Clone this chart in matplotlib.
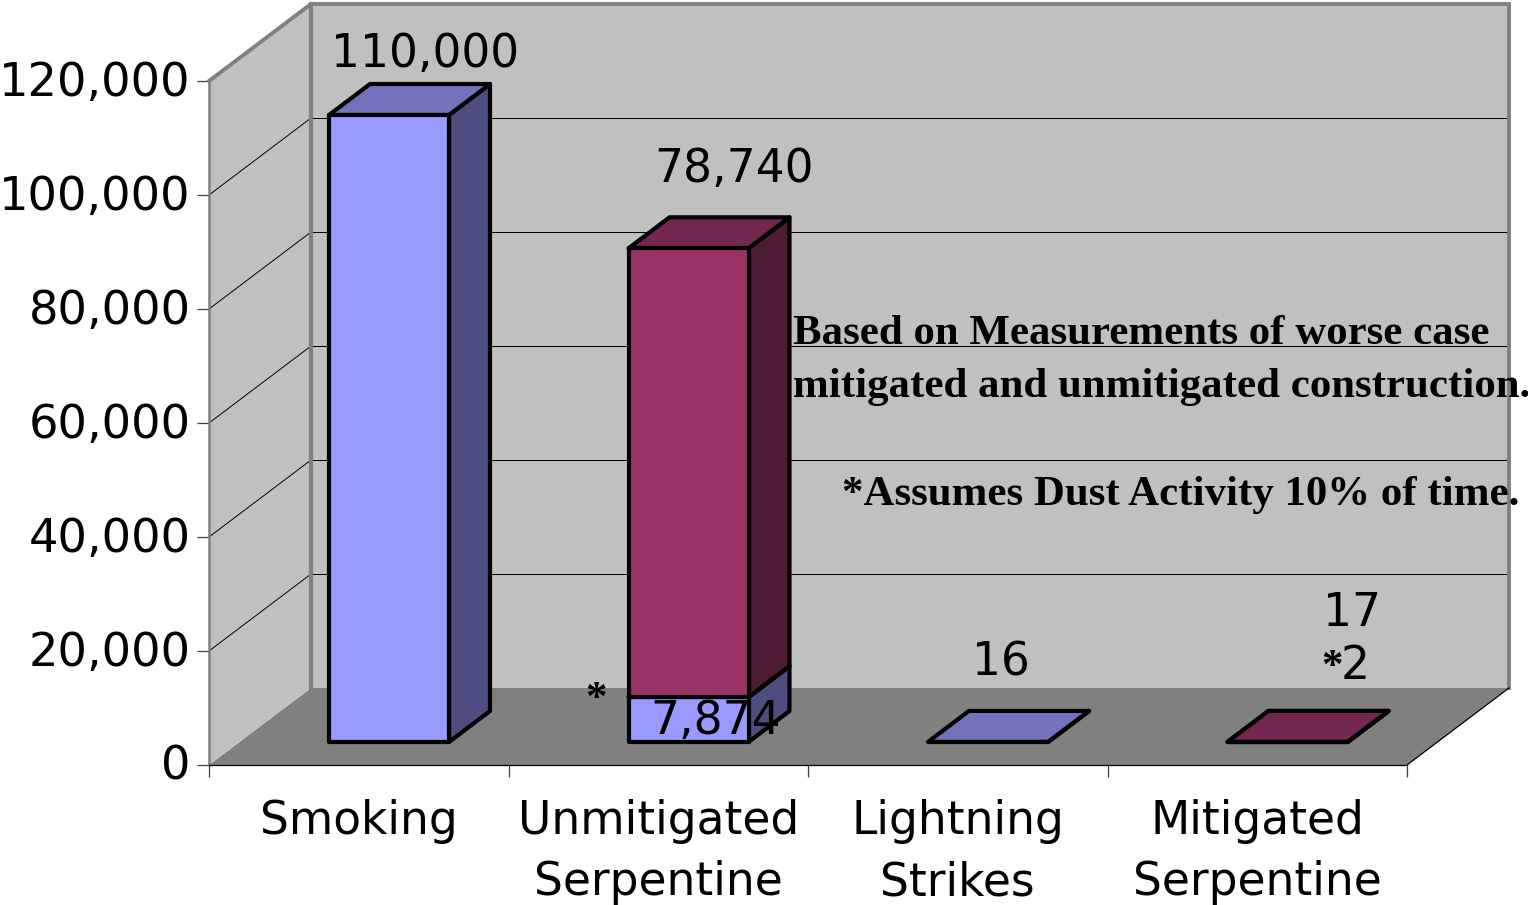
import matplotlib
matplotlib.use("Agg")
import matplotlib.pyplot as plt
from matplotlib.transforms import ScaledTranslation

# ---- data ----
categories = ["Smoking", "Unmitigated\nSerpentine", "Lightning\nStrikes", "Mitigated\nSerpentine"]
lower_values = [110000, 7874, 16, 2]
upper_values = [0, 78740, 0, 17]
y_ticks = [0, 20000, 40000, 60000, 80000, 100000, 120000]

W, H = 1528, 905
DPI = 100
X0, Y0 = 209, 765          # pixel position of the front-left origin
PX_CAT = 299.5             # pixels per category
PX_VAL = 684 / 120000      # pixels per value unit
N = len(categories)
YMAX = y_ticks[-1]


def ux(px):
    return px / PX_CAT


def uy(px):
    return px / PX_VAL


fig = plt.figure(figsize=(W / DPI, H / DPI), dpi=DPI, facecolor="white")
ax = fig.add_axes([0, 0, 1, 1])
ax.set_xlim((0 - X0) / PX_CAT, (W - X0) / PX_CAT)
ax.set_ylim((Y0 - H) / PX_VAL, Y0 / PX_VAL)
ax.patch.set_visible(False)

# 3-D box depth
DX, DY = ux(102), uy(77)
GREY = "#808080"
WALL = "#C0C0C0"

ax.fill([0, N, N + DX, DX], [0, 0, DY, DY], color=GREY, lw=0, zorder=1)
ax.fill([0, DX, DX, 0], [0, DY, YMAX + DY, YMAX], color=WALL, lw=0, zorder=1)
ax.fill([DX, N + DX, N + DX, DX], [DY, DY, YMAX + DY, YMAX + DY], color=WALL, lw=0, zorder=1)

# grid lines on the side and back walls
for v in y_ticks[1:-1]:
    ax.plot([0, DX], [v, v + DY], color="black", lw=0.7, zorder=2)
    ax.plot([DX, N + DX], [v + DY, v + DY], color="black", lw=0.72, zorder=2)

# wall borders
ax.plot([0, DX, N + DX, N + DX], [YMAX, YMAX + DY, YMAX + DY, DY], color=GREY, lw=2.8,
        zorder=2, solid_joinstyle="miter")
ax.plot([DX, DX], [DY, YMAX + DY], color=GREY, lw=3.0, zorder=2)
ax.plot([N, N + DX], [0, DY], color="black", lw=0.9, zorder=2)

# bars
BAR_W = ux(120)
BAR_OFF = ux(120)
SHIFT_Y = uy(23)
BDX, BDY = ux(41), uy(31)
LW = 3.0
COL_LOW = ("#9999FF", "#7373BD", "#4D4D80")
COL_UP = ("#993366", "#732650", "#4D1A33")


def segment(i, bottom, height, cols, z):
    x0 = i + BAR_OFF
    x1 = x0 + BAR_W
    b = bottom + SHIFT_Y
    t = b + height
    kw = dict(edgecolor="black", linewidth=LW, joinstyle="round", zorder=z)
    ax.fill([x1, x1 + BDX, x1 + BDX, x1], [b, b + BDY, t + BDY, t], facecolor=cols[2], **kw)
    ax.fill([x0, x1, x1 + BDX, x0 + BDX], [t, t, t + BDY, t + BDY], facecolor=cols[1], **kw)
    ax.bar(x0, height, BAR_W, bottom=b, align="edge", facecolor=cols[0], **kw)


for i in range(N):
    segment(i, 0, lower_values[i], COL_LOW, 3 + i)
    if upper_values[i]:
        segment(i, lower_values[i], upper_values[i], COL_UP, 3.5 + i)

# axes
for s in ("top", "right"):
    ax.spines[s].set_visible(False)
ax.spines["left"].set_position(("data", 0))
ax.spines["left"].set_bounds(0, YMAX)
ax.spines["left"].set_color(GREY)
ax.spines["left"].set_linewidth(1.8)
ax.spines["left"].set_zorder(2.5)
ax.spines["bottom"].set_position(("data", 0))
ax.spines["bottom"].set_bounds(0, N)
ax.spines["bottom"].set_color("black")
ax.spines["bottom"].set_linewidth(0.9)
ax.spines["bottom"].set_zorder(2.5)

FS = 32.8
ax.set_yticks(y_ticks)
ax.set_yticklabels([f"{v:,}" for v in y_ticks], fontsize=33.4, color="black")
ax.tick_params(axis="y", length=9, width=0.9, color="#404040", pad=4, direction="out")
for t in ax.get_yticklabels():
    t.set_transform(t.get_transform() + ScaledTranslation(0, 3 / 72 * 0.72, fig.dpi_scale_trans))
ax.set_xticks(range(N + 1))
ax.set_xticklabels([])
ax.tick_params(axis="x", which="major", length=8.5, width=0.9, color="#404040", direction="out")
ax.set_xticks([i + 0.5 for i in range(N)], minor=True)
ax.set_xticklabels(categories, minor=True, fontsize=FS, linespacing=1.46)
ax.tick_params(axis="x", which="minor", length=0, pad=24.5)


def label(px, py, s, **kw):
    kw.setdefault("fontsize", FS)
    kw.setdefault("ha", "center")
    kw.setdefault("va", "center")
    fig.text(px / W, 1 - py / H, s, zorder=10, **kw)


label(425, 54.5, f"{lower_values[0]:,}")
label(734, 169.5, f"{upper_values[1]:,}")
label(716, 721, f"{lower_values[1]:,}")
label(1001, 662.5, f"{lower_values[2]}")
label(1352, 613.5, f"{upper_values[3]}")
label(1355, 666, f"{lower_values[3]}")

SERIF = dict(family="Liberation Serif", fontweight="bold")
label(1332, 668, "*", fontsize=30.8, **SERIF)
label(596, 700, "*", fontsize=30.8, **SERIF)
NOTE = dict(fontsize=30.85, ha="left", **SERIF)
label(793, 334.5, "Based on Measurements of worse case", **NOTE)
label(793, 386.5, "mitigated and unmitigated construction.", **NOTE)
label(842, 494.5, "*Assumes Dust Activity 10% of time.", **NOTE)

fig.savefig("out.png", dpi=DPI, facecolor="white")
